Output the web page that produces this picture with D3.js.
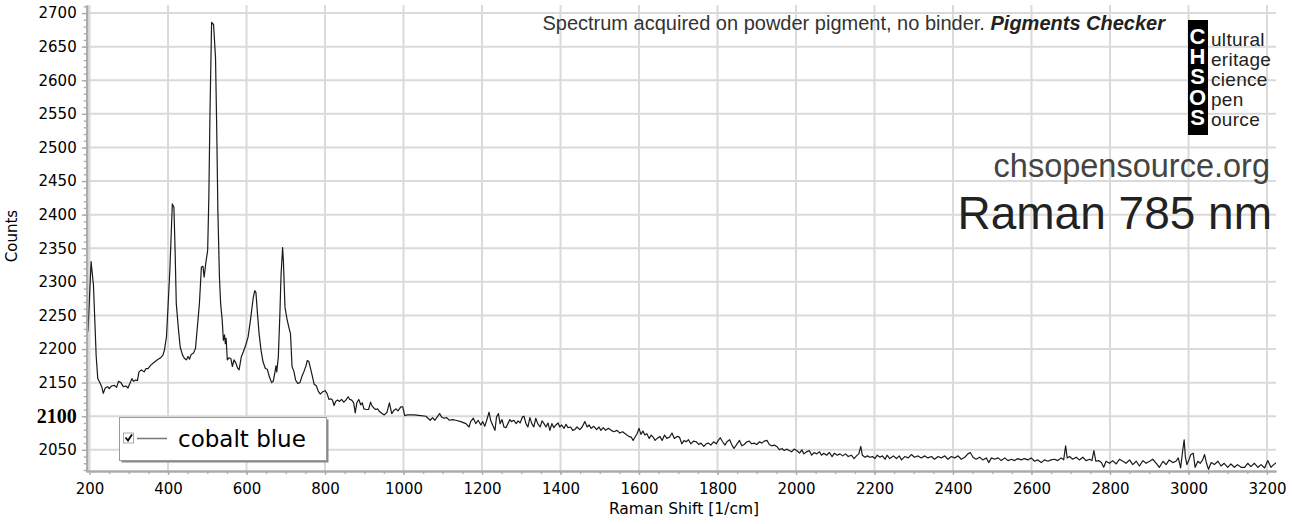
<!DOCTYPE html>
<html>
<head>
  <meta charset="utf-8">
  <title>cobalt blue - Raman 785 nm</title>
  <script src="https://cdnjs.cloudflare.com/ajax/libs/d3/7.8.5/d3.min.js"></script>
  <style>
    body { margin: 0; background: #fff; }
    svg { display: block; }
    .tick text { font-family: "DejaVu Sans", Verdana, sans-serif; font-size: 15px; fill: #000; }
  </style>
</head>
<body>
  <div id="vis"></div>
  <script>
var W = 1293, H = 524;
var pLeft = 86, pRight = 1276, pTop = 5, pBottom = 471;

// Raman shift [1/cm] and counts
var shift = [
  196,204,210,217,221,227,231,235,240,246,250,256,263,269,274,280,286,293,298,303,
  308,312,318,322,326,332,339,344,349,356,364,373,381,387,391,396,400,405,409,411,
  415,418,421,426,431,437,442,447,451,455,459,465,470,474,480,485,489,492,496,501,
  504,507,511,516,521,524,527,531,534,538,541,544,546,548,551,555,560,564,568,573,
  577,581,587,592,598,604,610,617,621,624,628,632,637,642,648,653,658,664,668,672,
  675,677,681,685,688,692,694,698,703,708,712,716,721,725,730,736,741,746,751,755,
  759,764,768,772,778,783,788,793,800,805,810,814,819,823,827,832,837,842,848,853,
  859,863,868,873,877,881,886,891,895,899,905,911,916,920,925,929,934,939,945,951,
  958,964,970,976,981,986,993,998,1003,1010,1027,1044,1057,1068,1074,1080,1086,1092,1097,1103,
  1110,1117,1125,1133,1146,1159,1167,1171,1178,1184,1190,1197,1202,1207,1212,1218,1222,1227,1233,1237,
  1242,1246,1251,1256,1261,1266,1271,1275,1281,1287,1292,1297,1303,1307,1312,1317,1322,1327,1332,1337,
  1342,1348,1353,1358,1363,1368,1373,1378,1383,1388,1394,1398,1403,1409,1414,1419,1426,1431,1436,1442,
  1449,1455,1462,1468,1473,1478,1485,1492,1498,1503,1509,1515,1522,1529,1536,1544,1551,1558,1565,1574,
  1580,1585,1590,1595,1600,1605,1610,1615,1620,1626,1631,1636,1641,1646,1653,1659,1665,1671,1678,1684,
  1690,1697,1703,1709,1715,1720,1726,1732,1739,1746,1752,1758,1765,1771,1777,1783,1790,1797,1802,1807,
  1813,1819,1824,1831,1837,1842,1849,1856,1862,1868,1875,1881,1887,1893,1900,1907,1913,1919,1926,1932,
  1938,1945,1951,1958,1964,1970,1976,1983,1989,1995,2002,2009,2015,2020,2027,2034,2040,2046,2053,2060,
  2065,2071,2078,2085,2092,2098,2105,2112,2119,2126,2133,2141,2148,2154,2160,2165,2169,2176,2182,2188,
  2195,2201,2207,2214,2220,2227,2232,2239,2248,2256,2263,2269,2277,2286,2294,2302,2311,2319,2328,2336,
  2345,2353,2362,2370,2379,2387,2396,2404,2413,2421,2430,2438,2444,2451,2459,2468,2476,2485,2491,2498,
  2506,2515,2523,2532,2540,2549,2557,2565,2574,2582,2591,2599,2608,2616,2625,2633,2642,2650,2659,2667,
  2676,2682,2687,2691,2697,2705,2714,2722,2731,2739,2748,2754,2759,2764,2771,2778,2784,2790,2799,2807,
  2816,2824,2833,2841,2850,2858,2867,2875,2884,2892,2901,2909,2918,2926,2935,2943,2951,2960,2968,2974,
  2980,2984,2989,2992,2996,3001,3006,3012,3017,3024,3030,3036,3041,3046,3051,3058,3066,3075,3083,3091,
  3100,3108,3117,3125,3134,3143,3151,3159,3168,3177,3185,3194,3202,3210,3217,3224
];
var counts = [
  2226,2330,2295,2189,2156,2149,2144,2134,2142,2144,2141,2145,2146,2143,2152,2150,2144,2145,2142,2149,
  2156,2152,2154,2153,2166,2169,2166,2171,2171,2176,2180,2184,2187,2191,2199,2218,2263,2322,2386,2416,
  2411,2347,2268,2233,2203,2191,2186,2184,2189,2185,2192,2194,2201,2228,2268,2322,2323,2307,2327,2347,
  2426,2555,2686,2683,2634,2530,2406,2307,2268,2243,2213,2221,2208,2216,2184,2187,2186,2174,2184,2179,
  2172,2169,2189,2196,2206,2218,2243,2276,2287,2284,2252,2223,2198,2181,2171,2170,2159,2150,2152,2164,
  2175,2166,2188,2252,2311,2351,2330,2262,2245,2232,2223,2174,2166,2154,2149,2150,2159,2166,2174,2183,
  2181,2169,2159,2148,2145,2137,2133,2136,2138,2134,2125,2126,2124,2116,2122,2124,2122,2125,2121,2124,
  2129,2125,2124,2120,2105,2120,2125,2117,2120,2111,2110,2110,2121,2115,2112,2110,2111,2107,2104,2102,
  2106,2120,2104,2109,2111,2108,2114,2114,2101,2102,2102,2101,2100,2094,2098,2094,2099,2104,2099,2097,
  2098,2094,2095,2094,2092,2089,2084,2092,2097,2089,2094,2087,2092,2085,2094,2106,2094,2087,2079,2099,
  2104,2089,2095,2084,2083,2089,2095,2092,2094,2089,2093,2090,2099,2100,2089,2084,2098,2089,2084,2097,
  2089,2084,2093,2089,2084,2090,2079,2089,2083,2087,2090,2084,2087,2082,2088,2083,2084,2079,2080,2084,
  2080,2084,2092,2084,2087,2082,2085,2080,2084,2079,2083,2079,2082,2079,2077,2079,2075,2077,2074,2070,
  2069,2064,2069,2074,2082,2073,2078,2072,2074,2067,2072,2069,2064,2067,2070,2064,2072,2067,2069,2075,
  2067,2070,2069,2059,2064,2062,2065,2059,2063,2062,2058,2060,2055,2059,2060,2057,2062,2059,2064,2068,
  2062,2057,2062,2065,2057,2052,2058,2064,2056,2058,2062,2063,2059,2060,2058,2062,2060,2063,2064,2058,
  2056,2057,2055,2050,2052,2049,2051,2049,2047,2051,2049,2045,2050,2044,2047,2049,2042,2046,2044,2047,
  2042,2045,2042,2046,2040,2045,2042,2044,2041,2044,2040,2042,2037,2041,2044,2055,2042,2039,2041,2039,
  2040,2037,2042,2039,2041,2036,2042,2037,2041,2037,2041,2035,2040,2038,2043,2039,2041,2038,2041,2038,
  2040,2036,2040,2038,2041,2036,2040,2038,2041,2036,2039,2044,2046,2039,2036,2039,2035,2038,2031,2038,
  2036,2038,2034,2038,2034,2036,2034,2037,2035,2037,2035,2038,2033,2035,2031,2035,2033,2035,2036,2034,
  2038,2035,2056,2038,2040,2036,2039,2035,2039,2034,2036,2034,2049,2033,2034,2031,2024,2033,2030,2034,
  2029,2036,2033,2030,2035,2028,2033,2026,2034,2030,2033,2036,2030,2024,2033,2028,2035,2031,2033,2038,
  2023,2043,2065,2040,2028,2035,2043,2045,2024,2033,2030,2035,2043,2030,2021,2031,2028,2033,2026,2030,
  2024,2029,2024,2028,2024,2024,2030,2025,2030,2024,2028,2023,2034,2024,2028,2031
];
var xTicks = d3.range(200, 3201, 200);
var yTicks = d3.range(2050, 2701, 50);
var seriesName = "cobalt blue";

var points = shift.map(function(s, i) { return [s, counts[i]]; });

var x = d3.scaleLinear().domain([191, 3223]).range([pLeft, pRight]);
var y = d3.scaleLinear().domain([2018.5, 2712]).range([pBottom, pTop]);

var svg = d3.select("div#vis").append("svg")
  .attr("width", W)
  .attr("height", H);

svg.append("defs").append("clipPath").attr("id", "plot")
  .append("rect")
  .attr("x", pLeft).attr("y", 0)
  .attr("width", pRight - pLeft).attr("height", pBottom);

// grid
svg.append("g").selectAll("line").data(xTicks).enter().append("line")
  .attr("x1", function(d) { return x(d); })
  .attr("x2", function(d) { return x(d); })
  .attr("y1", pTop).attr("y2", pBottom)
  .attr("stroke", "#dadada").attr("stroke-width", 2);
svg.append("g").selectAll("line").data(yTicks).enter().append("line")
  .attr("x1", pLeft).attr("x2", pRight)
  .attr("y1", function(d) { return y(d); })
  .attr("y2", function(d) { return y(d); })
  .attr("stroke", "#dadada").attr("stroke-width", 2);

// header texts
svg.append("text")
  .attr("x", 1165).attr("y", 30)
  .attr("text-anchor", "end")
  .style("font-family", "'Liberation Sans', Arial, sans-serif")
  .style("font-size", "20px")
  .style("fill", "#333")
  .text("Spectrum acquired on powder pigment, no binder. ")
  .append("tspan")
  .style("font-weight", "bold").style("font-style", "italic").style("fill", "#222")
  .text("Pigments Checker");

// CHSOS logo
var logo = ["C", "H", "S", "O", "S"];
var logoWords = ["ultural", "eritage", "cience", "pen", "ource"];
svg.append("rect")
  .attr("x", 1188).attr("y", 20).attr("width", 20).attr("height", 115)
  .attr("fill", "#000");
svg.append("g").selectAll("text").data(logo).enter().append("text")
  .attr("x", 1197.5)
  .attr("y", function(d, i) { return 43.5 + i * 20.4; })
  .attr("text-anchor", "middle")
  .style("font-family", "'Liberation Sans', Arial, sans-serif")
  .style("font-weight", "bold").style("font-size", "22px")
  .style("fill", "#fff")
  .text(function(d) { return d; });
svg.append("g").selectAll("text").data(logoWords).enter().append("text")
  .attr("x", 1211)
  .attr("y", function(d, i) { return 45.5 + i * 20.2; })
  .style("font-family", "'Liberation Sans', Arial, sans-serif")
  .style("font-size", "19px").style("letter-spacing", "0.3px")
  .style("fill", "#222")
  .text(function(d) { return d; });

svg.append("text")
  .attr("x", 1270).attr("y", 177)
  .attr("text-anchor", "end")
  .style("font-family", "'Liberation Sans', Arial, sans-serif")
  .style("font-size", "32.5px").style("fill", "#444")
  .text("chsopensource.org");
svg.append("text")
  .attr("x", 1272).attr("y", 229)
  .attr("text-anchor", "end")
  .style("font-family", "'Liberation Sans', Arial, sans-serif")
  .style("font-size", "46px").style("fill", "#222")
  .text("Raman 785 nm");

// spectrum
var line = d3.line()
  .x(function(d) { return x(d[0]); })
  .y(function(d) { return y(d[1]); });
svg.append("path")
  .datum(points)
  .attr("clip-path", "url(#plot)")
  .attr("d", line)
  .attr("fill", "none")
  .attr("stroke", "#1a1a1a")
  .attr("stroke-width", 1.2)
  .attr("stroke-linejoin", "round");

// axes
var yAxis = svg.append("g")
  .attr("transform", "translate(" + (pLeft + 0.7) + ",0)")
  .call(d3.axisLeft(y).tickValues(yTicks).tickFormat(d3.format("d"))
    .tickSize(5).tickPadding(5).tickSizeOuter(0));
svg.append("g")
  .attr("transform", "translate(" + (pLeft + 0.7) + ",0)")
  .call(d3.axisLeft(y).tickValues(d3.range(2020, 2711, 10)).tickSize(3).tickFormat("").tickSizeOuter(0));
svg.append("g")
  .attr("transform", "translate(0," + pBottom + ")")
  .call(d3.axisBottom(x).tickValues(xTicks).tickFormat(d3.format("d"))
    .tickSize(4).tickPadding(8.5).tickSizeOuter(0));
svg.append("g")
  .attr("transform", "translate(0," + pBottom + ")")
  .call(d3.axisBottom(x).tickValues(d3.range(250, 3201, 50)).tickSize(3).tickFormat("").tickSizeOuter(0));

svg.selectAll(".domain").attr("stroke", "#ababab").attr("stroke-width", 2);
svg.selectAll(".tick line").attr("stroke", "#ababab").attr("stroke-width", 1.3);

// the 2100 label is drawn bold in a serif face in the original
yAxis.selectAll(".tick text")
  .filter(function(d) { return d === 2100; })
  .style("font-family", "'Liberation Serif', 'Times New Roman', serif")
  .style("font-weight", "bold")
  .style("font-size", "20px");

// axis titles
svg.append("text")
  .attr("transform", "translate(17,236) rotate(-90)")
  .attr("text-anchor", "middle")
  .style("font-family", "'DejaVu Sans', Verdana, sans-serif")
  .style("font-size", "15px")
  .text("Counts");
svg.append("text")
  .attr("x", 684).attr("y", 514)
  .attr("text-anchor", "middle")
  .style("font-family", "'DejaVu Sans', Verdana, sans-serif")
  .style("font-size", "15.5px")
  .text("Raman Shift [1/cm]");

// legend
var lg = svg.append("g").attr("transform", "translate(119,417)");
lg.append("rect")
  .attr("x", 2.5).attr("y", 2.5).attr("width", 207).attr("height", 43)
  .attr("fill", "#8a8a8a");
lg.append("rect")
  .attr("x", 0.5).attr("y", 0.5).attr("width", 207).attr("height", 43)
  .attr("fill", "#fff").attr("stroke", "#9a9a9a");
lg.append("rect")
  .attr("x", 4.5).attr("y", 16).attr("width", 10).attr("height", 10)
  .attr("fill", "#fff").attr("stroke", "#aaa");
lg.append("path")
  .attr("d", "M6.5,20.5 L9,23.5 L13,17.5")
  .attr("fill", "none").attr("stroke", "#000").attr("stroke-width", 1.8);
lg.append("line")
  .attr("x1", 18).attr("x2", 48).attr("y1", 21.5).attr("y2", 21.5)
  .attr("stroke", "#777").attr("stroke-width", 1.5);
lg.append("text")
  .attr("x", 59).attr("y", 30)
  .style("font-family", "'DejaVu Sans', Verdana, sans-serif")
  .style("font-size", "23px")
  .text(seriesName);
  </script>
</body>
</html>
